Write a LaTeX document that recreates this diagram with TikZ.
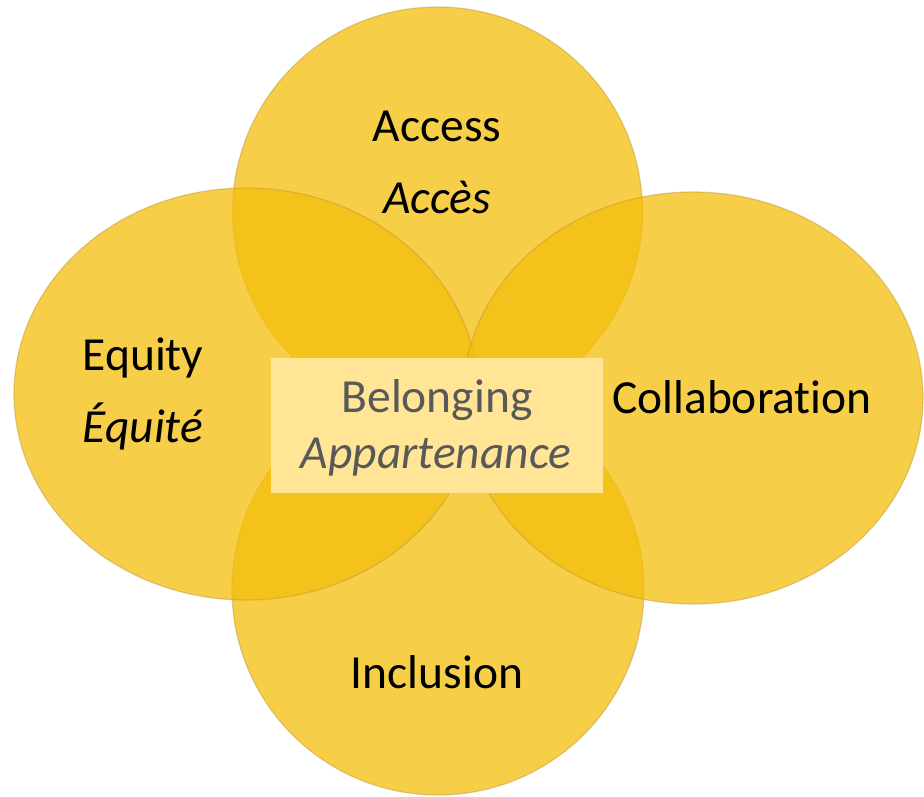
\documentclass[tikz,border=0pt]{standalone}
\usepackage{fontspec}
\setmainfont[Ligatures={NoCommon,NoRare}]{Carlito}
\definecolor{gold}{RGB}{245,190,12}
\definecolor{rim}{RGB}{190,150,50}
\definecolor{boxfill}{RGB}{255,229,149}
\definecolor{boxtext}{RGB}{89,89,89}
\begin{document}
\begin{tikzpicture}[x=1pt,y=-1pt,
  petal/.style={fill=gold,fill opacity=0.75,draw=rim,draw opacity=0.45,line width=1.2pt},
  label/.style={anchor=base,font=\fontsize{47.5}{50}\selectfont,text=black,inner sep=0pt},
  ilabel/.style={label,font=\fontsize{47.5}{50}\selectfont\itshape},
  clabel/.style={label,text=boxtext},
  cilabel/.style={ilabel,text=boxtext}]
\useasboundingbox (0,0) rectangle (924,797);
\fill[white] (0,0) rectangle (924,797);
% petals
\path[petal] (437.5,212) circle[radius=205];
\path[petal] (438,589) circle[radius=206];
\path[petal] (246,394) ellipse[x radius=232,y radius=206];
\path[petal] (693,398) ellipse[x radius=230,y radius=206];
% centre box
\node[fill=boxfill,minimum width=332,minimum height=135,inner sep=0pt] (box) at (437,425.5) {};
% labels
\node[label] (access) at (437,142) {Access};
\node[ilabel] (acces) at (437,213) {Accès};
\node[label] (equity) at (143,370) {Equity};
\node[ilabel] (equite) at (143,442) {Équité};
\node[label] (collab) at (742,413) {Collaboration};
\node[label] (incl) at (437,688) {Inclusion};
\node[clabel] (belong) at (437,412) {Belonging};
\node[cilabel] (appart) at (436,468) {Appartenance};
\end{tikzpicture}
\end{document}
